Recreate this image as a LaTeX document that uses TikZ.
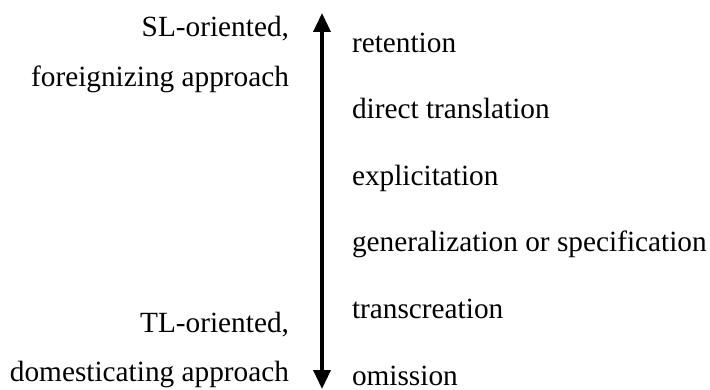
\documentclass[tikz,border=0pt]{standalone}
\usepackage{fontspec}
\setmainfont{Liberation Serif}
\usetikzlibrary{arrows.meta}
\tikzset{
  lbl/.style={inner sep=0pt, outer sep=0pt, font=\fontsize{29.3}{35}\selectfont},
  rlbl/.style={lbl, anchor=base west},
  llbl/.style={lbl, anchor=base east},
  axisarrow/.style={line width=3.5pt, {Triangle[length=19pt,width=17pt]}-{Triangle[length=19pt,width=17pt]}}
}
\begin{document}
\begin{tikzpicture}[x=1pt,y=1pt]
\useasboundingbox (0,0) rectangle (710,-390);
\coordinate (top) at (322,-13);
\coordinate (bot) at (322,-389);
\draw[axisarrow] (bot) -- (top);
\node[rlbl] (r1) at (352,-53) {retention};
\node[rlbl] (r2) at (352,-119) {direct translation};
\node[rlbl] (r3) at (352,-186) {explicitation};
\node[rlbl] (r4) at (352,-252) {generalization or specification};
\node[rlbl] (r5) at (352,-319) {transcreation};
\node[rlbl] (r6) at (352,-385) {omission};
\node[llbl] (l1) at (289,-37) {SL-oriented,};
\node[llbl] (l2) at (289,-87) {foreignizing approach};
\node[llbl] (l3) at (289,-333) {TL-oriented,};
\node[llbl] (l4) at (289,-381) {domesticating approach};
\end{tikzpicture}
\end{document}
